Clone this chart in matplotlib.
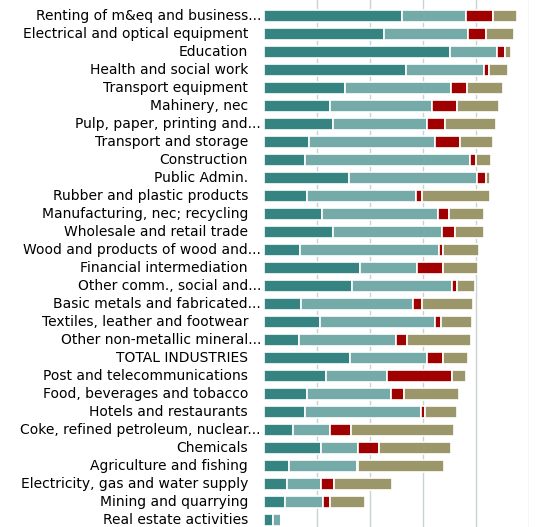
import numpy as np
import matplotlib.pyplot as plt
import matplotlib.transforms as mtransforms

# industries, top to bottom; labels ending in "..." are truncated in the source
industries = [
    "Renting of m&eq and business...", "Electrical and optical equipment",
    "Education", "Health and social work", "Transport equipment",
    "Mahinery, nec", "Pulp, paper, printing and...", "Transport and storage",
    "Construction", "Public Admin.", "Rubber and plastic products",
    "Manufacturing, nec; recycling", "Wholesale and retail trade",
    "Wood and products of wood and...", "Financial intermediation",
    "Other comm., social and...", "Basic metals and fabricated...",
    "Textiles, leather and footwear", "Other non-metallic mineral...",
    "TOTAL INDUSTRIES", "Post and telecommunications",
    "Food, beverages and tobacco", "Hotels and restaurants",
    "Coke, refined petroleum, nuclear...", "Chemicals",
    "Agriculture and fishing", "Electricity, gas and water supply",
    "Mining and quarrying", "Real estate activities",
]

# four stacked components per industry
seg1 = [2.60, 2.26, 3.52, 2.68, 1.53, 1.24, 1.31, 0.86, 0.77, 1.60,
        0.82, 1.09, 1.30, 0.68, 1.81, 1.67, 0.69, 1.05, 0.67, 1.62,
        1.18, 0.81, 0.77, 0.55, 1.07, 0.48, 0.43, 0.39, 0.17]
seg2 = [1.22, 1.60, 0.88, 1.47, 2.01, 1.94, 1.78, 2.38, 3.12, 2.42,
        2.05, 2.19, 2.07, 2.62, 1.09, 1.89, 2.12, 2.19, 1.82, 1.47,
        1.14, 1.60, 2.20, 0.69, 0.70, 1.27, 0.65, 0.72, 0.16]
seg3 = [0.50, 0.33, 0.16, 0.11, 0.30, 0.47, 0.33, 0.46, 0.11, 0.17,
        0.12, 0.21, 0.25, 0.09, 0.48, 0.09, 0.17, 0.11, 0.21, 0.29,
        1.24, 0.23, 0.08, 0.40, 0.41, 0.03, 0.25, 0.13, 0.0]
seg4 = [0.47, 0.53, 0.11, 0.36, 0.67, 0.79, 0.96, 0.62, 0.30, 0.09,
        1.28, 0.67, 0.53, 0.67, 0.67, 0.33, 0.98, 0.59, 1.21, 0.47,
        0.26, 1.05, 0.60, 1.96, 1.35, 1.62, 1.09, 0.66, 0.0]

colors = ["#358482", "#74aba9", "#a00000", "#9c976b"]

fig = plt.figure(figsize=(5.35, 5.27), dpi=100)
ax = fig.add_axes([264 / 535, 0, (528.5 - 264) / 535, 1])

y = np.arange(len(industries))
left = np.zeros(len(industries))
for vals, c in zip([seg1, seg2, seg3, seg4], colors):
    vals = np.array(vals)
    ax.barh(y, vals, left=left, height=0.66, color=c, edgecolor="white",
            linewidth=1.2, zorder=2)
    left += vals

ax.set_xlim(0, 5)
ax.set_ylim(len(industries) - 0.6, -0.88)
ax.set_xticks([1, 2, 3, 4, 5])
ax.xaxis.grid(True, color="#c9d3d3", linewidth=1, zorder=0)
ax.tick_params(length=0, labelbottom=False)
for s in ax.spines.values():
    s.set_visible(False)

# labels: plain ones end at ~x=248 px, truncated ones run up to the bars
ax.set_yticks([])
trans = mtransforms.blended_transform_factory(ax.transAxes, ax.transData)
off_plain = mtransforms.ScaledTranslation(-16 / 100, 0, fig.dpi_scale_trans)
off_trunc = mtransforms.ScaledTranslation(-3 / 100, 0, fig.dpi_scale_trans)
for i, lab in enumerate(industries):
    off = off_trunc if lab.endswith("...") else off_plain
    ax.text(0, i, lab, transform=trans + off, ha="right", va="center",
            fontsize=10, color="black")

fig.savefig("out.png", dpi=100)
